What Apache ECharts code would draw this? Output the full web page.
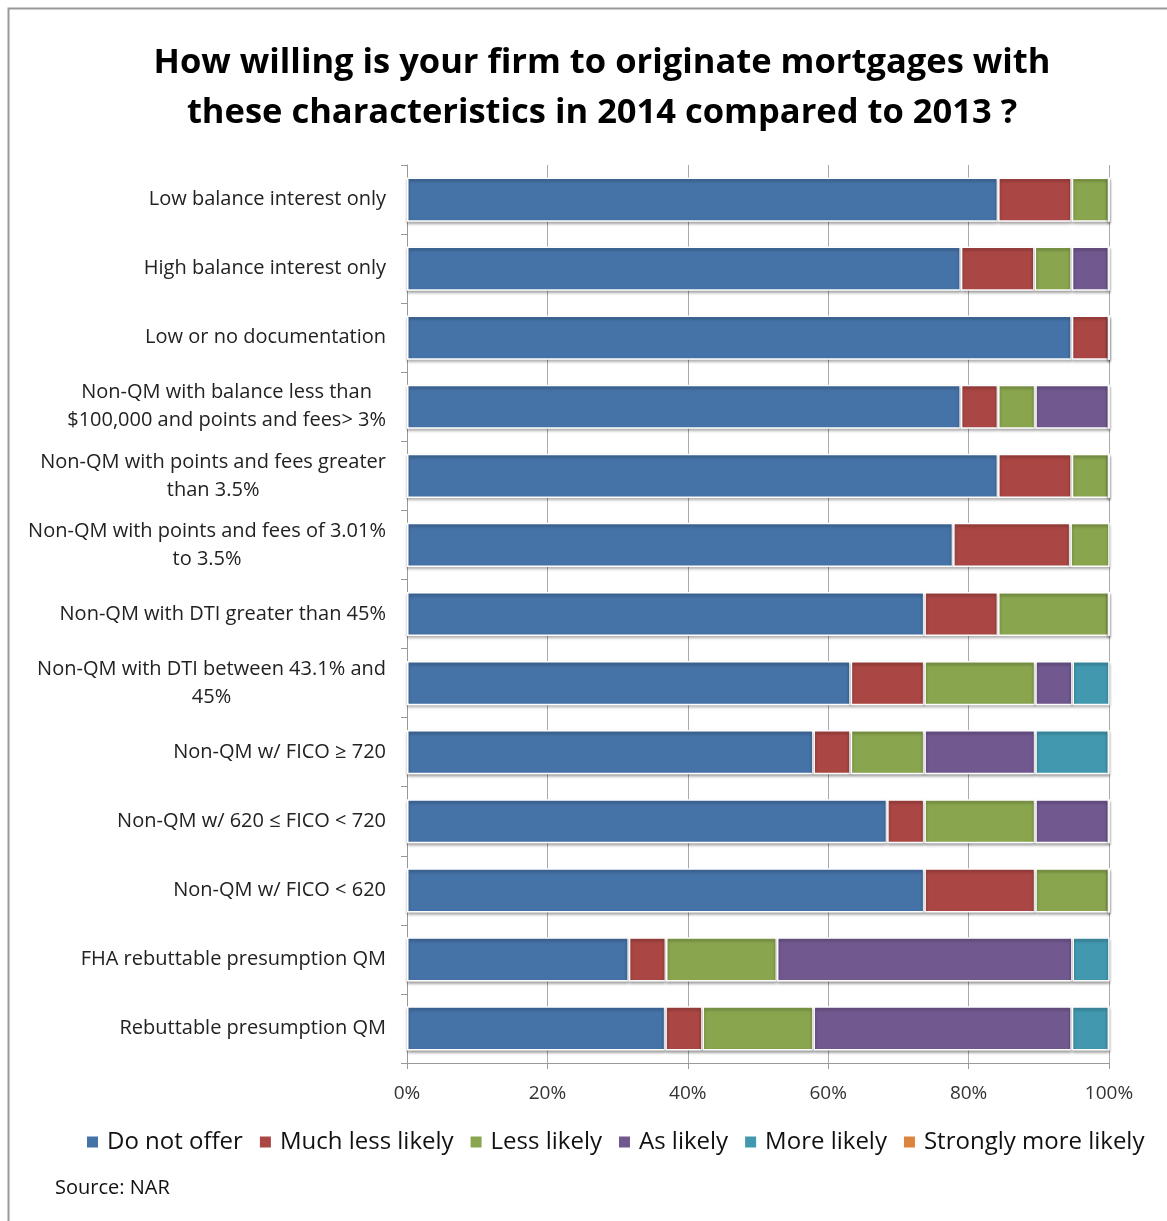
<!DOCTYPE html>
<html><head><meta charset="utf-8">
<script src="https://cdn.jsdelivr.net/npm/echarts@6/dist/echarts.min.js"></script>
<style>html,body{margin:0;padding:0;background:#fff}#c{width:1167px;height:1221px}</style>
</head><body><div id="c"></div>
<script>
var categories = [
  'Low balance interest only',
  'High balance interest only',
  'Low or no documentation',
  'Non-QM with balance less than\n$100,000 and points and fees> 3%',
  'Non-QM with points and fees greater\nthan 3.5%',
  'Non-QM with points and fees of 3.01%\nto 3.5%',
  'Non-QM with DTI greater than 45%',
  'Non-QM with DTI between 43.1% and\n45%',
  'Non-QM w/ FICO \u2265 720',
  'Non-QM w/ 620 \u2264 FICO < 720',
  'Non-QM w/ FICO < 620',
  'FHA rebuttable presumption QM',
  'Rebuttable presumption QM'
];
var seriesNames = ['Do not offer','Much less likely','Less likely','As likely','More likely','Strongly more likely'];
var doNotOffer   = [84.2, 78.9, 94.7, 78.9, 84.2, 77.8, 73.7, 63.2, 57.9, 68.4, 73.7, 31.6, 36.8];
var muchLess     = [10.5, 10.5, 5.3, 5.3, 10.5, 16.7, 10.5, 10.5, 5.3, 5.3, 15.8, 5.3, 5.3];
var lessLikely   = [5.3, 5.3, 0, 5.3, 5.3, 5.6, 15.8, 15.8, 10.5, 15.8, 10.5, 15.8, 15.8];
var asLikely     = [0, 5.3, 0, 10.5, 0, 0, 0, 5.3, 15.8, 10.5, 0, 42.1, 36.8];
var moreLikely   = [0, 0, 0, 0, 0, 0, 0, 5.3, 10.5, 0, 0, 5.3, 5.3];
var stronglyMore = [0, 0, 0, 0, 0, 0, 0, 0, 0, 0, 0, 0, 0];
var xTicks = [0, 20, 40, 60, 80, 100];

var colors = ['#4572A7','#AA4643','#89A54E','#71588F','#4198AF','#DB843D'];
var allData = [doNotOffer, muchLess, lessLikely, asLikely, moreLikely, stronglyMore];
var FONT = 'Open Sans';

var chart = echarts.init(document.getElementById('c'));
chart.setOption({
  animation: false,
  color: colors,
  title: {
    text: 'How willing is your firm to originate mortgages with\nthese characteristics in 2014 compared to 2013 ?',
    left: 597, top: 33, textAlign: 'center',
    textStyle: {fontFamily: FONT, fontWeight: 'bold', fontSize: 34.5, lineHeight: 50, color: '#000'}
  },
  legend: {
    left: 80, top: 1125, itemWidth: 13, itemHeight: 13, itemGap: 15,
    icon: 'rect',
    textStyle: {fontFamily: FONT, fontSize: 24, color: '#111', padding: [0,0,0,3]},
    data: seriesNames
  },
  grid: {left: 407, right: 58, top: 165, bottom: 158, containLabel: false},
  xAxis: {
    type: 'value', min: 0, max: 100, interval: 20,
    axisLine: {show: true, lineStyle: {color: '#999'}},
    axisTick: {show: true, length: 6, lineStyle: {color: '#999'}},
    axisLabel: {formatter: function(v){return v + '%';}, fontFamily: FONT, fontSize: 19, color: '#333', margin: 21},
    splitLine: {show: true, lineStyle: {color: '#aaa'}}
  },
  yAxis: {
    type: 'category', data: categories, inverse: true,
    axisLine: {show: true, lineStyle: {color: '#999'}},
    axisTick: {show: true, length: 6, lineStyle: {color: '#999'}},
    axisLabel: {
      fontFamily: FONT, fontSize: 20, color: '#222', margin: 21, lineHeight: 28,
      formatter: function(v){
        return v.split('\n').map(function(l){return '{c|' + l + '}';}).join('\n');
      },
      rich: {c: {align: 'center', fontFamily: FONT, fontSize: 20, color: '#222', lineHeight: 28}}
    }
  },
  graphic: [
    {type: 'rect', shape: {x: 8.5, y: 8.5, width: 1200, height: 1260}, style: {fill: 'none', stroke: '#999', lineWidth: 2}, silent: true},
    {type: 'text', left: 55, top: 1178, style: {text: 'Source: NAR', fontFamily: FONT, fontSize: 20, fill: '#111'}}
  ],
  series: seriesNames.map(function(n, i){
    return {
      name: n, type: 'bar', stack: 'total', data: allData[i],
      barCategoryGap: '36%',
      itemStyle: {borderColor: '#fff', borderWidth: 1.5, shadowColor: 'rgba(0,0,0,0.35)', shadowBlur: 3, shadowOffsetY: 2}
    };
  })
});
</script></body></html>
